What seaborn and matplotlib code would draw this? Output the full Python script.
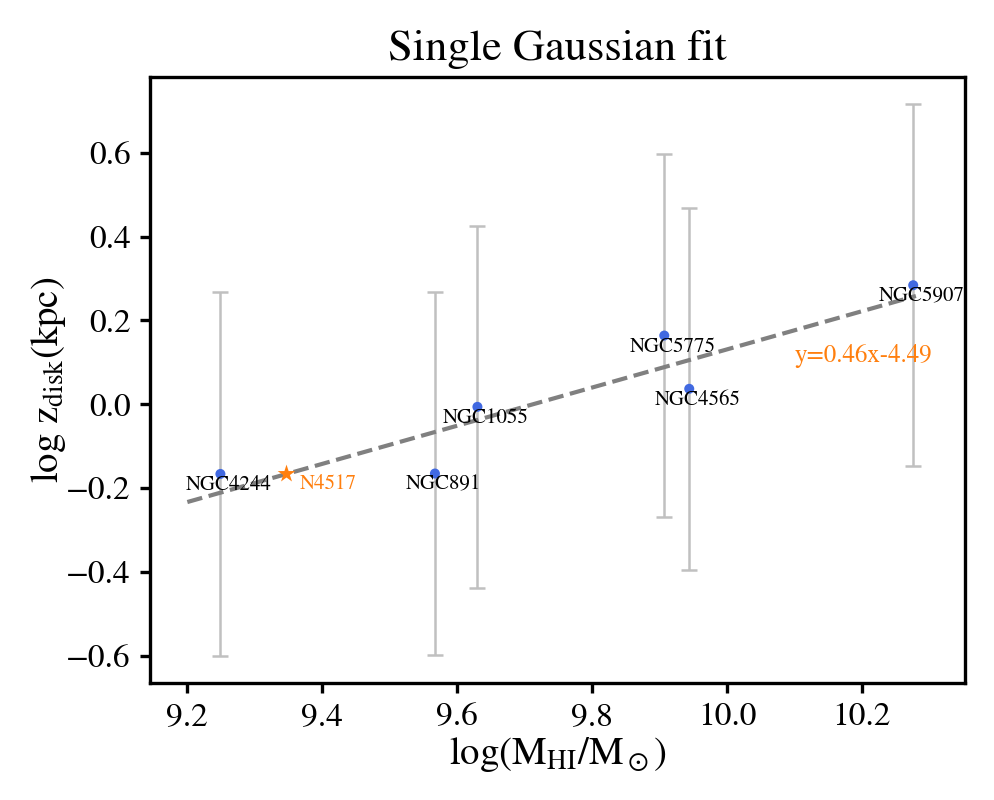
import numpy as np
import pandas as pd
import matplotlib
matplotlib.use('Agg')
import matplotlib.pyplot as plt
import seaborn as sns

# galaxy sample
names = ['NGC4244', 'NGC891', 'NGC1055', 'NGC5775', 'NGC4565', 'NGC5907']
log_mhi = [9.249, 9.567, 9.630, 9.907, 9.944, 10.276]
log_z = [-0.166, -0.165, -0.006, 0.164, 0.037, 0.284]
z_err = [0.433, 0.433, 0.432, 0.432, 0.432, 0.431]

# the extra galaxy marked with a star
star_name = 'N4517'
star_x = [9.347]
star_y = [-0.166]

# dashed fit line as drawn
fit_x = [9.2, 10.28]
fit_slope = 0.455
fit_intercept = -4.419
fit_label = 'y=0.46x-4.49'


def make_plot():
    sns.set_style('ticks')
    plt.rcParams['font.family'] = ['STIXGeneral', 'Liberation Serif', 'DejaVu Serif']
    plt.rcParams['mathtext.fontset'] = 'stix'
    plt.rcParams['axes.linewidth'] = 1.2
    plt.rcParams['xtick.major.width'] = 1.2
    plt.rcParams['ytick.major.width'] = 1.2
    plt.rcParams['xtick.color'] = 'black'
    plt.rcParams['ytick.color'] = 'black'
    plt.rcParams['axes.edgecolor'] = 'black'
    plt.rcParams['text.color'] = 'black'
    plt.rcParams['axes.labelcolor'] = 'black'

    df = pd.DataFrame({'name': names, 'logM': log_mhi, 'logz': log_z, 'err': z_err})
    fit_df = pd.DataFrame({'x': fit_x})
    fit_df['y'] = fit_slope * fit_df['x'] + fit_intercept

    fig, ax = plt.subplots(figsize=(4.975, 4), dpi=200)
    fig.subplots_adjust(left=0.151, right=0.970, bottom=0.146, top=0.904)

    # error bars first so points sit on top
    ax.errorbar(df['logM'], df['logz'], yerr=df['err'], fmt='none',
                ecolor='silver', elinewidth=0.9, capsize=3, capthick=0.9, zorder=1)

    sns.lineplot(data=fit_df, x='x', y='y', ax=ax, color='gray',
                 linestyle='--', linewidth=1.5, zorder=2)

    sns.scatterplot(data=df, x='logM', y='logz', ax=ax, color='royalblue',
                    s=13, edgecolor='none', zorder=3)
    sns.scatterplot(x=star_x, y=star_y, ax=ax, color='tab:orange', marker='*',
                    s=45, edgecolor='none', zorder=3)

    for _, row in df.iterrows():
        ax.annotate(row['name'], (row['logM'], row['logz']), xytext=(2.9, -5.8),
                    textcoords='offset points', ha='center', va='baseline',
                    fontsize=7.5, color='black', zorder=4)
    ax.annotate(star_name, (star_x[0], star_y[0]), xytext=(4.7, -5.4),
                textcoords='offset points', ha='left', va='baseline',
                fontsize=7.5, color='tab:orange')

    ax.text(10.1, 0.1, fit_label, color='tab:orange', fontsize=9,
            ha='left', va='baseline')

    ax.set_xlim(9.145, 10.353)
    ax.set_ylim(-0.665, 0.781)
    ax.set_xticks(np.arange(9.2, 10.21, 0.2))
    ax.set_yticks(np.arange(-0.6, 0.61, 0.2))
    ax.tick_params(labelsize=12)

    ax.set_title('Single Gaussian fit', fontsize=16)
    ax.set_xlabel(r'$\rm \log(M_{HI}/M_\odot)$', fontsize=14, labelpad=1)
    ax.set_ylabel(r'$\log\,{\rm z_{disk}(kpc)}$', fontsize=14, labelpad=-0.5)

    fig.savefig('out.png', dpi=200)


if __name__ == "__main__":
    make_plot()
